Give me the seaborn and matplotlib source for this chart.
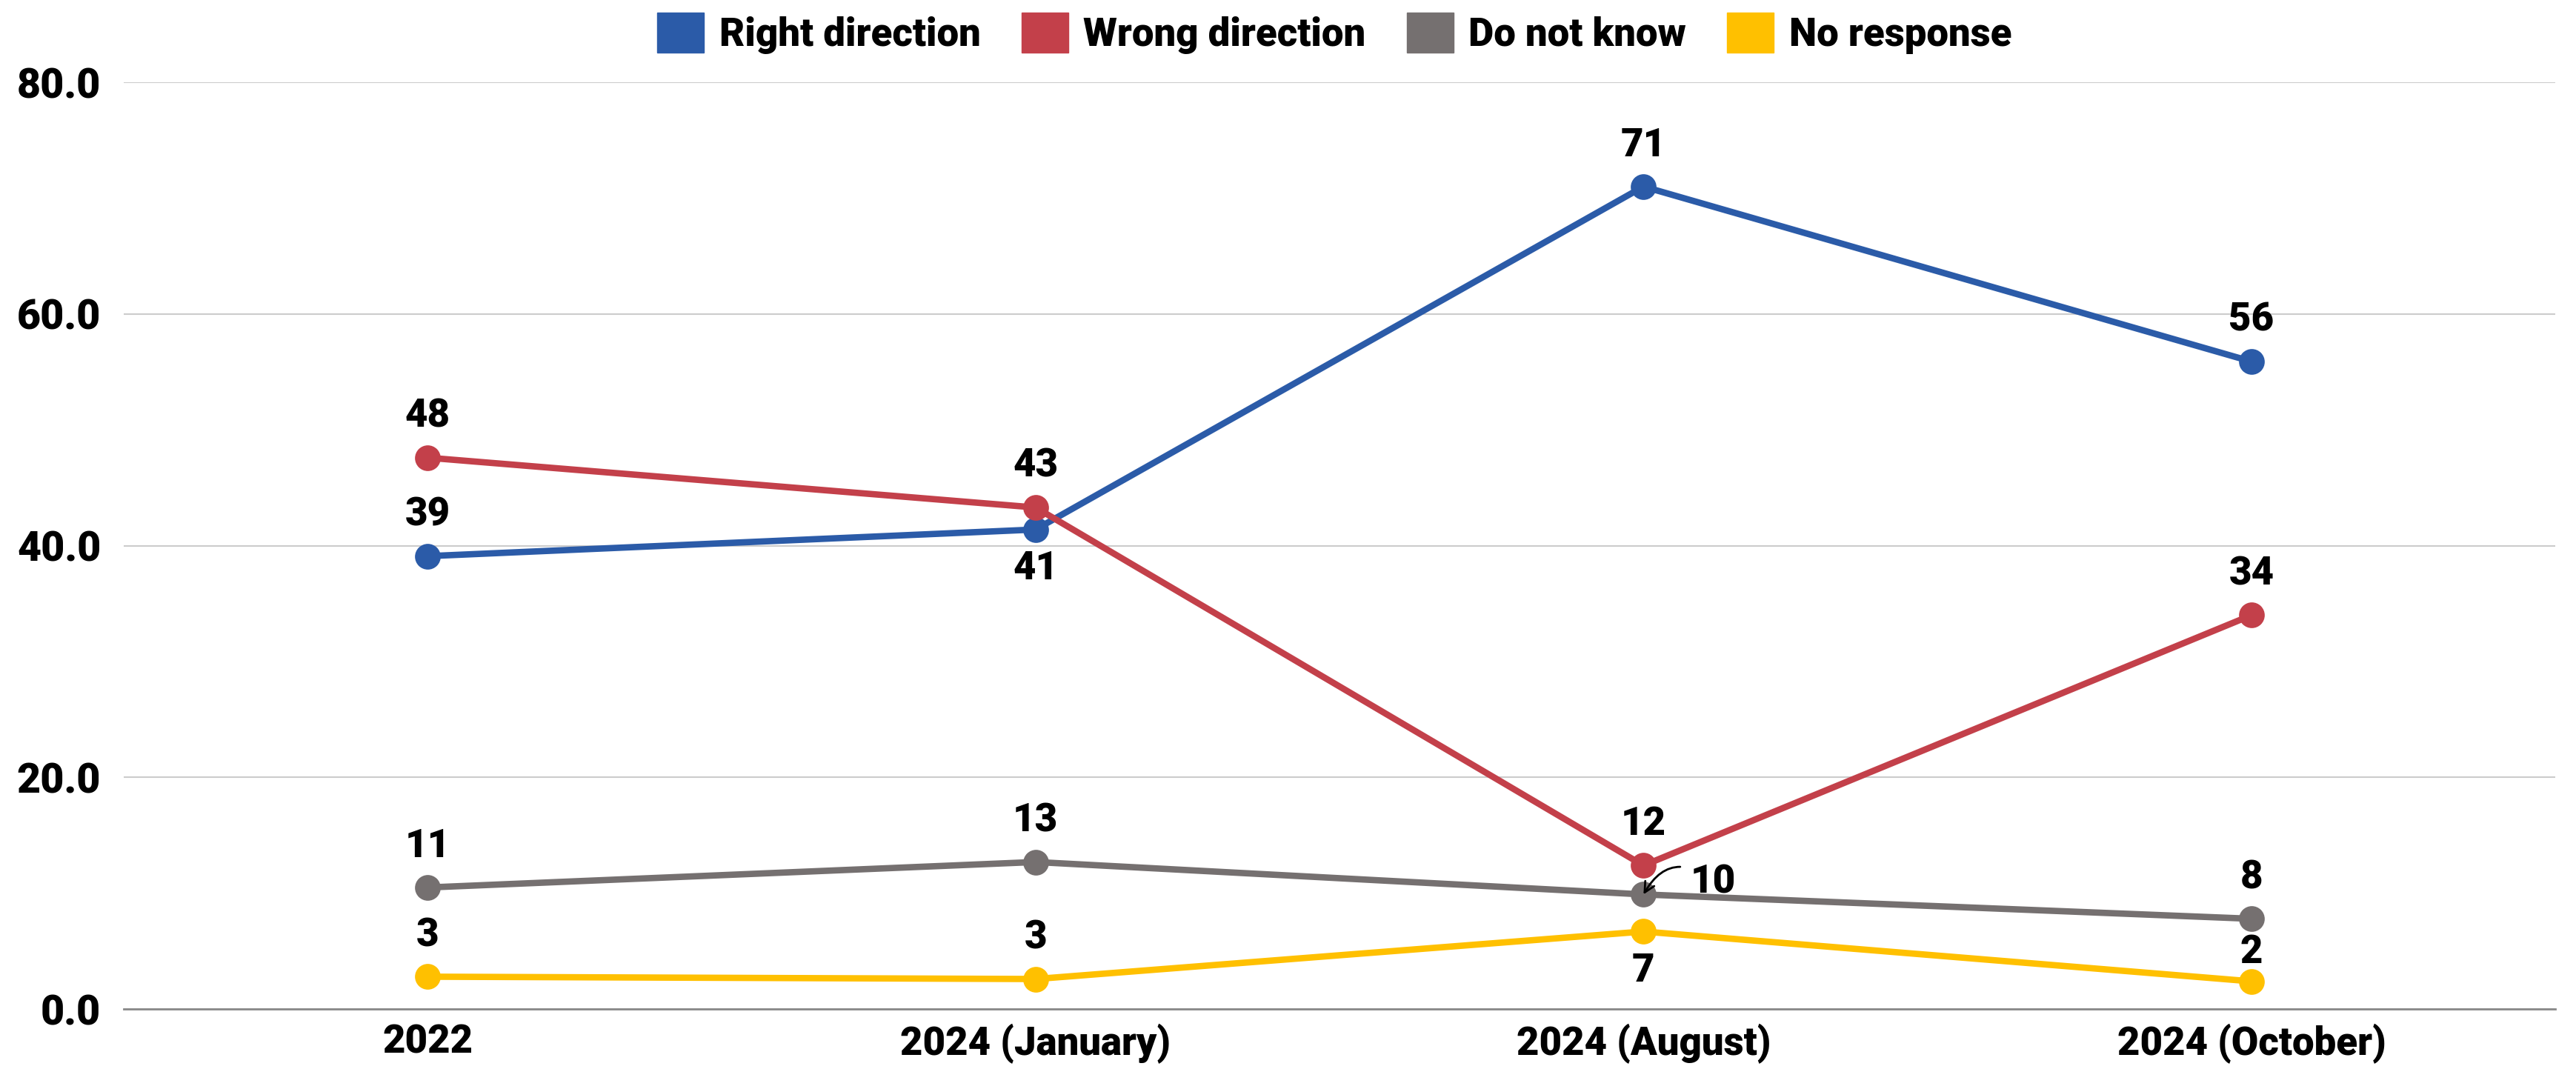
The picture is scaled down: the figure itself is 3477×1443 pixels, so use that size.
import matplotlib.pyplot as plt
import pandas as pd
import seaborn as sns

# Data
periods = ["2022", "2024 (January)", "2024 (August)", "2024 (October)"]
series_names = ["Right direction", "Wrong direction", "Do not know", "No response"]
right_direction = [39.1, 41.4, 71.0, 55.9]
wrong_direction = [47.6, 43.3, 12.4, 34.0]
do_not_know = [10.5, 12.7, 9.9, 7.8]
no_response = [2.8, 2.6, 6.7, 2.4]
labels = {
    "Right direction": [39, 41, 71, 56],
    "Wrong direction": [48, 43, 12, 34],
    "Do not know": [11, 13, 10, 8],
    "No response": [3, 3, 7, 2],
}

colors = ["#2B5BA8", "#C3404A", "#757070", "#FFC000"]

rows = []
for name, vals in zip(series_names, [right_direction, wrong_direction, do_not_know, no_response]):
    for i, v in enumerate(vals):
        rows.append({"idx": i, "period": periods[i], "series": name, "value": v})
df = pd.DataFrame(rows)

sns.set_style("white")
plt.rcParams['font.family'] = ['Roboto', 'DejaVu Sans']
plt.rcParams['font.weight'] = 'bold'
plt.rcParams['text.color'] = 'black'
plt.rcParams['xtick.color'] = 'black'
plt.rcParams['ytick.color'] = 'black'
FS = 38

fig, ax = plt.subplots(figsize=(34.77, 14.43), dpi=100)
fig.subplots_adjust(left=0.048, right=0.992, bottom=0.056, top=0.923)

sns.lineplot(data=df, x="idx", y="value", hue="series", hue_order=series_names,
             palette=colors, marker="o", markersize=25, markeredgewidth=0,
             linewidth=6.2, ax=ax, legend=False, clip_on=False)

ax.set_xlim(-0.5, 3.5)
ax.set_ylim(0, 80)
ax.set_xticks(range(len(periods)))
ax.set_xticklabels(periods)
ax.set_yticks([0, 20, 40, 60, 80])
ax.set_yticklabels([f"{t:.1f}" for t in [0, 20, 40, 60, 80]])
ax.tick_params(axis='both', length=0, labelsize=FS, colors='black')
ax.tick_params(axis='y', labelsize=40, pad=22)
ax.tick_params(axis='x', pad=14)
for lab in ax.get_xticklabels() + ax.get_yticklabels():
    lab.set_fontweight('heavy')
ax.set_xlabel("")
ax.set_ylabel("")
ax.yaxis.grid(True, color="#CCCCCC", linewidth=1.5)
ax.set_axisbelow(True)
for s in ["top", "right", "left"]:
    ax.spines[s].set_visible(False)
ax.spines["bottom"].set_color("#888888")
ax.spines["bottom"].set_linewidth(2)

# data labels
below = {("Right direction", 1), ("No response", 2)}
for name in series_names:
    vals = df[df.series == name]["value"].tolist()
    for i, v in enumerate(vals):
        txt = str(labels[name][i])
        if name == "Do not know" and i == 2:
            ax.annotate(txt, xy=(i, v), xytext=(68, 12), textcoords="offset points",
                        ha="center", va="center", fontsize=FS, fontweight="heavy",
                        color="black",
                        arrowprops=dict(arrowstyle="->", color="black", lw=2,
                                        mutation_scale=25,
                                        connectionstyle="arc3,rad=0.6",
                                        shrinkA=8, shrinkB=0))
            continue
        dy = -38 if (name, i) in below else 40
        if name == "No response" and i == 3:
            dy = 28
        ax.annotate(txt, xy=(i, v), xytext=(0, dy), textcoords="offset points",
                    ha="center", va="center", fontsize=FS, fontweight="heavy",
                    color="black")

handles = [plt.Rectangle((0, 0), 1, 1, color=c) for c in colors]
fig.legend(handles, series_names, loc="center", bbox_to_anchor=(0.518, 0.969),
           ncol=4, frameon=False, handlelength=1.2, handleheight=1.2,
           handletextpad=0.38, columnspacing=1.05, labelcolor='black',
           prop={'weight': 'heavy', 'size': FS})

fig.savefig("out.png", dpi=100)
